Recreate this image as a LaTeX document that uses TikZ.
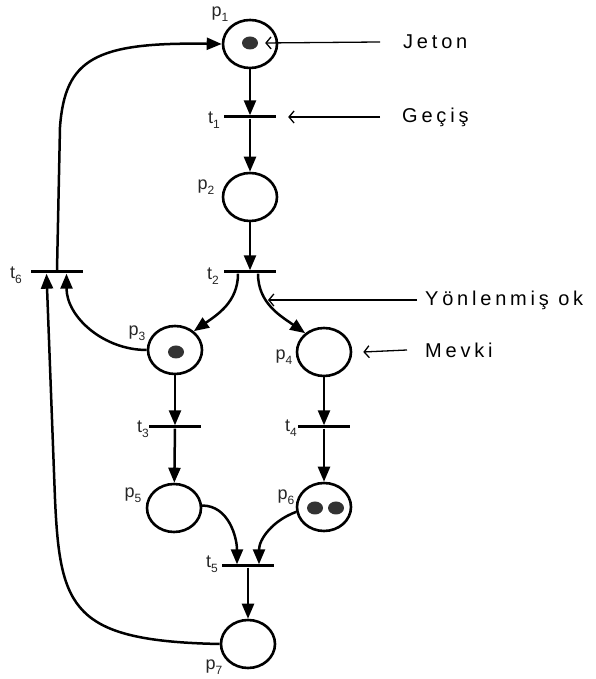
\documentclass[tikz,border=0pt]{standalone}
\usepackage{fontspec}
\setmainfont{Liberation Sans}
\usetikzlibrary{arrows.meta,shapes.geometric}

% label with a subscript index, e.g. p_1, t_3
\newcommand{\pnlab}[2]{#1\raisebox{-4.5pt}{\fontsize{12}{12}\selectfont #2}}

\tikzset{
  place/.style={draw, line width=2.6pt, ellipse, minimum width=54pt,
                minimum height=48pt, inner sep=0pt},
  trans/.style={rectangle, fill=black, minimum width=52pt,
                minimum height=3pt, inner sep=0pt},
  token/.style={ellipse, fill=black!80, minimum width=16pt,
                minimum height=13pt, inner sep=0pt},
  arc/.style={line width=2.5pt, -{Triangle[length=15pt,width=12pt]}},
  note/.style={line width=1.3pt, -{Straight Barb[length=5pt,width=12pt]}},
  lbl/.style={font=\fontsize{18}{18}\selectfont, inner sep=0pt, text=black!85},
  notetext/.style={anchor=west, inner sep=0pt,
                   font=\fontsize{20}{20}\selectfont\addfontfeatures{LetterSpace=19}}
}

\begin{document}
\begin{tikzpicture}[x=1pt,y=1pt]
\useasboundingbox (0,0) rectangle (595,679);

% places
\node[place] (p1) at (250,635) {};
\node[place] (p2) at (250,482) {};
\node[place] (p3) at (175,329) {};
\node[place] (p4) at (324,327) {};
\node[place] (p5) at (174,171) {};
\node[place] (p6) at (324,172) {};
\node[place] (p7) at (248,35) {};

% tokens
\node[token] (k1) at (250,636) {};
\node[token] (k3) at (176,327) {};
\node[token] (k6a) at (315,171) {};
\node[token] (k6b) at (336,171) {};

% transitions
\node[trans] (t1) at (250,562) {};
\node[trans] (t2) at (250,407) {};
\node[trans] (t3) at (175,252) {};
\node[trans] (t4) at (324,252) {};
\node[trans] (t5) at (248,113) {};
\node[trans] (t6) at (57,407) {};

% place and transition labels
\node[lbl] (lp1) at (220,665) {\pnlab{p}{1}};
\node[lbl] (lp2) at (206,492) {\pnlab{p}{2}};
\node[lbl] (lp3) at (137,346) {\pnlab{p}{3}};
\node[lbl] (lp4) at (284,322) {\pnlab{p}{4}};
\node[lbl] (lp5) at (133,184) {\pnlab{p}{5}};
\node[lbl] (lp6) at (286,182) {\pnlab{p}{6}};
\node[lbl] (lp7) at (214,12)  {\pnlab{p}{7}};
\node[lbl] (lt1) at (214,559) {\pnlab{t}{1}};
\node[lbl] (lt2) at (213,403) {\pnlab{t}{2}};
\node[lbl] (lt3) at (143,250) {\pnlab{t}{3}};
\node[lbl] (lt4) at (291,251) {\pnlab{t}{4}};
\node[lbl] (lt5) at (212,115) {\pnlab{t}{5}};
\node[lbl] (lt6) at (16,404)  {\pnlab{t}{6}};

% arcs of the net
\draw[arc] (p1) -- (t1);
\draw[arc] (t1) -- (p2);
\draw[arc] (p2) -- (t2);
\draw[arc] ([xshift=-12pt]t2.south) to[out=-90,in=35] (p3.45);
\draw[arc] ([xshift=8pt]t2.south) to[out=-90,in=145] (p4.135);
\draw[arc] (p3) -- (t3);
\draw[arc] (t3) -- (p5);
\draw[arc] (p4) -- (t4);
\draw[arc] (t4) -- (p6);
\draw[arc] (p5.5) to[out=0,in=90] ([xshift=-11pt]t5.north);
\draw[arc] (p6.190) to[out=200,in=90] ([xshift=11pt]t5.north);
\draw[arc] (t5) -- (p7);
\draw[arc] (p3.west) to[out=180,in=-90] ([xshift=9.5pt]t6.south);
\draw[arc] (p7.west) .. controls (72,38) and (60,70) .. (55,180)
           -- ([xshift=-10.5pt]t6.south);
\draw[arc] (t6.north) -- (60,552) .. controls (65,620) and (95,637) .. (p1.west);

% annotations
\node[notetext] (jeton) at (403,637) {Jeton};
\node[notetext] (gecis) at (402,562) {Geçiş};
\node[notetext] (yonok) at (425,379) {Yönlenmiş ok};
\node[notetext] (mevki) at (425,329) {Mevki};
\coordinate (arcpt) at (268,379);

\draw[note] ([xshift=-23pt]jeton.west) -- ([xshift=7pt]k1.east);
\draw[note] ([xshift=-22pt]gecis.west) -- ([xshift=12pt]t1.east);
\draw[note] ([xshift=-8pt]yonok.west) -- (arcpt);
\draw[note] ([xshift=-18pt]mevki.west) -- ([xshift=11pt]p4.east);
\end{tikzpicture}
\end{document}
